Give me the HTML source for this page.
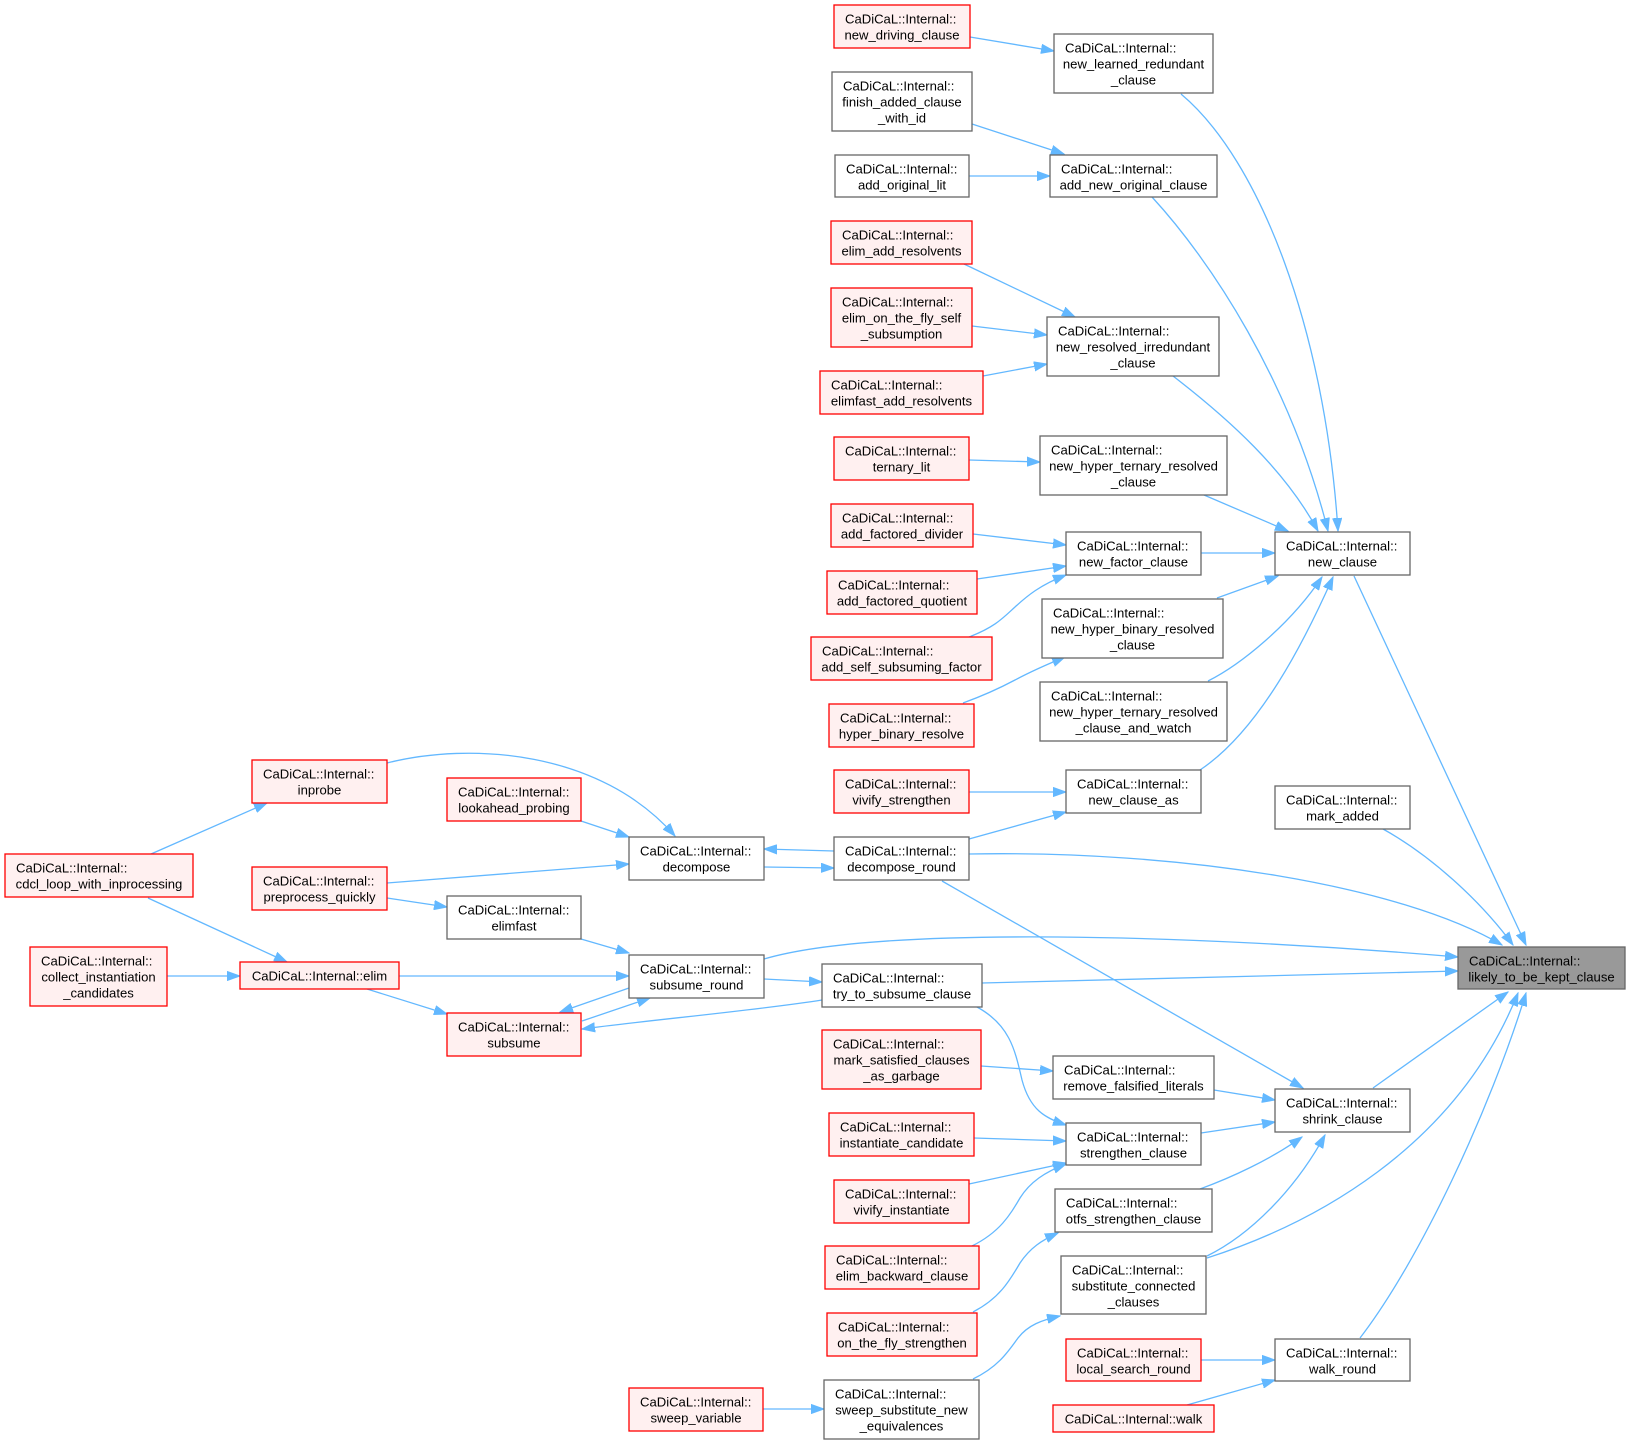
<!DOCTYPE html>
<html><head><meta charset="utf-8"><style>
html,body{margin:0;padding:0;background:#fff;}
svg{display:block;}
text{font-family:"Liberation Sans",Arial,Helvetica,sans-serif;font-size:13.1px;fill:#000;}
.c{text-anchor:middle;}
.n rect{fill:#fff;stroke:#666;stroke-width:1.3;}
.r rect{fill:#fff0f0;stroke:#ff0000;stroke-width:1.3;}
.g rect{fill:#999;stroke:#666;stroke-width:1.3;}
.e path{fill:none;stroke:#63b8ff;stroke-width:1.3;marker-end:url(#a);}
</style></head><body>
<svg width="1630" height="1444" viewBox="0 0 1630 1444" xmlns="http://www.w3.org/2000/svg">
<defs><marker id="a" markerWidth="14" markerHeight="10" refX="13" refY="5" orient="auto" markerUnits="userSpaceOnUse"><path d="M0,0.4 L13,5 L0,9.6z" fill="#63b8ff" stroke="#63b8ff" stroke-width="1"/></marker></defs>
<rect x="0" y="0" width="1630" height="1444" fill="#fff"/>
<g class="e">
<path d="M970,37 L1054,51"/>
<path d="M972,124 L1064,154"/>
<path d="M969,176 L1050,176"/>
<path d="M964,264 L1075,317"/>
<path d="M972,326 L1047,335"/>
<path d="M983,376 L1047,364"/>
<path d="M969,460 L1040,462"/>
<path d="M973,534 L1066,545"/>
<path d="M977,579 L1066,566"/>
<path d="M969,637 C995,627 1003,618 1015,607 C1027,596 1040,585 1066,575"/>
<path d="M963,703 C985,695 1000,688 1015,680 C1030,672 1048,664 1065,657"/>
<path d="M969,792 L1066,792"/>
<path d="M969,839 L1066,812"/>
<path d="M1181,94 C1260,160 1325,330 1338,531"/>
<path d="M1152,197 C1210,260 1290,380 1328,531"/>
<path d="M1173,376 C1230,420 1285,470 1318,531"/>
<path d="M1204,495 L1288,531"/>
<path d="M1201,553 L1275,553"/>
<path d="M1217,598 L1278,576"/>
<path d="M1208,681 C1240,665 1290,625 1322,577"/>
<path d="M1200,770 C1260,730 1305,640 1333,577"/>
<path d="M1354,576 L1526,945"/>
<path d="M1383,829 C1430,855 1480,900 1513,945"/>
<path d="M969,854 C1180,850 1400,885 1502,945"/>
<path d="M764,959 C880,925 1200,935 1458,957"/>
<path d="M982,983 L1458,971"/>
<path d="M1373,1088 L1508,992"/>
<path d="M1207,1258 C1310,1225 1455,1150 1518,993"/>
<path d="M1360,1338 C1420,1260 1490,1110 1526,993"/>
<path d="M387,763 C470,742 600,750 675,836"/>
<path d="M581,821 L629,837"/>
<path d="M387,883 L629,864"/>
<path d="M834,851 L764,849"/>
<path d="M764,867 L834,868"/>
<path d="M387,898 L447,907"/>
<path d="M581,939 L629,953"/>
<path d="M399,976 L629,976"/>
<path d="M367,989 L447,1014"/>
<path d="M582,1021 L650,998"/>
<path d="M629,988 L560,1012"/>
<path d="M764,979 L822,982"/>
<path d="M822,1000 C760,1010 650,1020 582,1029"/>
<path d="M151,854 L267,803"/>
<path d="M148,898 L287,962"/>
<path d="M167,976 L240,976"/>
<path d="M942,881 L1303,1088"/>
<path d="M977,1007 C1010,1025 1015,1050 1022,1080 C1030,1110 1045,1118 1066,1125"/>
<path d="M981,1066 L1053,1071"/>
<path d="M1214,1090 L1275,1100"/>
<path d="M974,1138 L1066,1141"/>
<path d="M969,1184 L1066,1163"/>
<path d="M972,1246 C1000,1232 1010,1215 1020,1198 C1030,1182 1045,1172 1066,1164"/>
<path d="M1201,1133 L1275,1122"/>
<path d="M1200,1189 C1230,1178 1270,1160 1302,1137"/>
<path d="M1207,1256 C1250,1235 1295,1190 1325,1135"/>
<path d="M973,1312 C1000,1298 1010,1280 1020,1263 C1030,1248 1042,1240 1058,1233"/>
<path d="M973,1379 C998,1367 1008,1352 1018,1338 C1028,1325 1042,1320 1060,1316"/>
<path d="M763,1409 L824,1409"/>
<path d="M1201,1360 L1275,1360"/>
<path d="M1187,1405 L1275,1380"/>
</g>

<g class="r"><rect x="834" y="5" width="136" height="43"/><text x="845" y="23.5">CaDiCaL::Internal::</text><text class="c" x="902" y="39.5">new_driving_clause</text></g>
<g class="n"><rect x="1054" y="34" width="159" height="59"/><text x="1065" y="52.5">CaDiCaL::Internal::</text><text class="c" x="1133.5" y="68.5">new_learned_redundant</text><text class="c" x="1133.5" y="84.5">_clause</text></g>
<g class="n"><rect x="832" y="72" width="140" height="59"/><text x="843" y="90.5">CaDiCaL::Internal::</text><text class="c" x="902" y="106.5">finish_added_clause</text><text class="c" x="902" y="122.5">_with_id</text></g>
<g class="n"><rect x="835" y="155" width="134" height="42"/><text x="846" y="173.5">CaDiCaL::Internal::</text><text class="c" x="902" y="189.5">add_original_lit</text></g>
<g class="n"><rect x="1050" y="155" width="167" height="42"/><text x="1061" y="173.5">CaDiCaL::Internal::</text><text class="c" x="1133.5" y="189.5">add_new_original_clause</text></g>
<g class="r"><rect x="831" y="221" width="141" height="43"/><text x="842" y="239.5">CaDiCaL::Internal::</text><text class="c" x="901.5" y="255.5">elim_add_resolvents</text></g>
<g class="r"><rect x="831" y="288" width="141" height="59"/><text x="842" y="306.5">CaDiCaL::Internal::</text><text class="c" x="901.5" y="322.5">elim_on_the_fly_self</text><text class="c" x="901.5" y="338.5">_subsumption</text></g>
<g class="n"><rect x="1047" y="317" width="172" height="59"/><text x="1058" y="335.5">CaDiCaL::Internal::</text><text class="c" x="1133" y="351.5">new_resolved_irredundant</text><text class="c" x="1133" y="367.5">_clause</text></g>
<g class="r"><rect x="820" y="371" width="163" height="43"/><text x="831" y="389.5">CaDiCaL::Internal::</text><text class="c" x="901.5" y="405.5">elimfast_add_resolvents</text></g>
<g class="r"><rect x="834" y="437" width="135" height="43"/><text x="845" y="455.5">CaDiCaL::Internal::</text><text class="c" x="901.5" y="471.5">ternary_lit</text></g>
<g class="n"><rect x="1040" y="436" width="187" height="59"/><text x="1051" y="454.5">CaDiCaL::Internal::</text><text class="c" x="1133.5" y="470.5">new_hyper_ternary_resolved</text><text class="c" x="1133.5" y="486.5">_clause</text></g>
<g class="r"><rect x="831" y="504" width="142" height="43"/><text x="842" y="522.5">CaDiCaL::Internal::</text><text class="c" x="902" y="538.5">add_factored_divider</text></g>
<g class="n"><rect x="1066" y="532" width="135" height="43"/><text x="1077" y="550.5">CaDiCaL::Internal::</text><text class="c" x="1133.5" y="566.5">new_factor_clause</text></g>
<g class="r"><rect x="827" y="571" width="150" height="43"/><text x="838" y="589.5">CaDiCaL::Internal::</text><text class="c" x="902" y="605.5">add_factored_quotient</text></g>
<g class="n"><rect x="1042" y="599" width="181" height="59"/><text x="1053" y="617.5">CaDiCaL::Internal::</text><text class="c" x="1132.5" y="633.5">new_hyper_binary_resolved</text><text class="c" x="1132.5" y="649.5">_clause</text></g>
<g class="r"><rect x="811" y="637" width="181" height="43"/><text x="822" y="655.5">CaDiCaL::Internal::</text><text class="c" x="901.5" y="671.5">add_self_subsuming_factor</text></g>
<g class="n"><rect x="1040" y="682" width="187" height="59"/><text x="1051" y="700.5">CaDiCaL::Internal::</text><text class="c" x="1133.5" y="716.5">new_hyper_ternary_resolved</text><text class="c" x="1133.5" y="732.5">_clause_and_watch</text></g>
<g class="r"><rect x="829" y="704" width="145" height="43"/><text x="840" y="722.5">CaDiCaL::Internal::</text><text class="c" x="901.5" y="738.5">hyper_binary_resolve</text></g>
<g class="r"><rect x="834" y="770" width="135" height="43"/><text x="845" y="788.5">CaDiCaL::Internal::</text><text class="c" x="901.5" y="804.5">vivify_strengthen</text></g>
<g class="n"><rect x="1066" y="770" width="135" height="43"/><text x="1077" y="788.5">CaDiCaL::Internal::</text><text class="c" x="1133.5" y="804.5">new_clause_as</text></g>
<g class="n"><rect x="1275" y="532" width="135" height="43"/><text x="1286" y="550.5">CaDiCaL::Internal::</text><text class="c" x="1342.5" y="566.5">new_clause</text></g>
<g class="n"><rect x="1275" y="786" width="135" height="43"/><text x="1286" y="804.5">CaDiCaL::Internal::</text><text class="c" x="1342.5" y="820.5">mark_added</text></g>
<g class="r"><rect x="252" y="760" width="135" height="43"/><text x="263" y="778.5">CaDiCaL::Internal::</text><text class="c" x="319.5" y="794.5">inprobe</text></g>
<g class="r"><rect x="447" y="778" width="134" height="43"/><text x="458" y="796.5">CaDiCaL::Internal::</text><text class="c" x="514" y="812.5">lookahead_probing</text></g>
<g class="n"><rect x="629" y="837" width="135" height="43"/><text x="640" y="855.5">CaDiCaL::Internal::</text><text class="c" x="696.5" y="871.5">decompose</text></g>
<g class="n"><rect x="834" y="837" width="135" height="43"/><text x="845" y="855.5">CaDiCaL::Internal::</text><text class="c" x="901.5" y="871.5">decompose_round</text></g>
<g class="r"><rect x="5" y="854" width="188" height="43"/><text x="16" y="872.5">CaDiCaL::Internal::</text><text class="c" x="99" y="888.5">cdcl_loop_with_inprocessing</text></g>
<g class="r"><rect x="252" y="867" width="135" height="43"/><text x="263" y="885.5">CaDiCaL::Internal::</text><text class="c" x="319.5" y="901.5">preprocess_quickly</text></g>
<g class="n"><rect x="447" y="896" width="134" height="43"/><text x="458" y="914.5">CaDiCaL::Internal::</text><text class="c" x="514" y="930.5">elimfast</text></g>
<g class="g"><rect x="1458" y="947" width="167" height="42"/><text x="1469" y="965.5">CaDiCaL::Internal::</text><text class="c" x="1541.5" y="981.5">likely_to_be_kept_clause</text></g>
<g class="r"><rect x="30" y="947" width="137" height="59"/><text x="41" y="965.5">CaDiCaL::Internal::</text><text class="c" x="98.5" y="981.5">collect_instantiation</text><text class="c" x="98.5" y="997.5">_candidates</text></g>
<g class="r"><rect x="240" y="962" width="159" height="27"/><text class="c" x="319.5" y="980.3">CaDiCaL::Internal::elim</text></g>
<g class="n"><rect x="629" y="955" width="135" height="43"/><text x="640" y="973.5">CaDiCaL::Internal::</text><text class="c" x="696.5" y="989.5">subsume_round</text></g>
<g class="n"><rect x="822" y="964" width="160" height="43"/><text x="833" y="982.5">CaDiCaL::Internal::</text><text class="c" x="902" y="998.5">try_to_subsume_clause</text></g>
<g class="r"><rect x="447" y="1013" width="134" height="43"/><text x="458" y="1031.5">CaDiCaL::Internal::</text><text class="c" x="514" y="1047.5">subsume</text></g>
<g class="r"><rect x="822" y="1030" width="159" height="59"/><text x="833" y="1048.5">CaDiCaL::Internal::</text><text class="c" x="901.5" y="1064.5">mark_satisfied_clauses</text><text class="c" x="901.5" y="1080.5">_as_garbage</text></g>
<g class="n"><rect x="1053" y="1056" width="161" height="43"/><text x="1064" y="1074.5">CaDiCaL::Internal::</text><text class="c" x="1133.5" y="1090.5">remove_falsified_literals</text></g>
<g class="n"><rect x="1275" y="1089" width="135" height="43"/><text x="1286" y="1107.5">CaDiCaL::Internal::</text><text class="c" x="1342.5" y="1123.5">shrink_clause</text></g>
<g class="r"><rect x="829" y="1113" width="145" height="43"/><text x="840" y="1131.5">CaDiCaL::Internal::</text><text class="c" x="901.5" y="1147.5">instantiate_candidate</text></g>
<g class="n"><rect x="1066" y="1123" width="135" height="42"/><text x="1077" y="1141.5">CaDiCaL::Internal::</text><text class="c" x="1133.5" y="1157.5">strengthen_clause</text></g>
<g class="r"><rect x="834" y="1180" width="135" height="43"/><text x="845" y="1198.5">CaDiCaL::Internal::</text><text class="c" x="901.5" y="1214.5">vivify_instantiate</text></g>
<g class="n"><rect x="1055" y="1189" width="157" height="43"/><text x="1066" y="1207.5">CaDiCaL::Internal::</text><text class="c" x="1133.5" y="1223.5">otfs_strengthen_clause</text></g>
<g class="r"><rect x="825" y="1246" width="154" height="43"/><text x="836" y="1264.5">CaDiCaL::Internal::</text><text class="c" x="902" y="1280.5">elim_backward_clause</text></g>
<g class="n"><rect x="1061" y="1256" width="145" height="58"/><text x="1072" y="1274.5">CaDiCaL::Internal::</text><text class="c" x="1133.5" y="1290.5">substitute_connected</text><text class="c" x="1133.5" y="1306.5">_clauses</text></g>
<g class="r"><rect x="827" y="1313" width="150" height="43"/><text x="838" y="1331.5">CaDiCaL::Internal::</text><text class="c" x="902" y="1347.5">on_the_fly_strengthen</text></g>
<g class="r"><rect x="1066" y="1339" width="135" height="42"/><text x="1077" y="1357.5">CaDiCaL::Internal::</text><text class="c" x="1133.5" y="1373.5">local_search_round</text></g>
<g class="n"><rect x="1275" y="1339" width="135" height="42"/><text x="1286" y="1357.5">CaDiCaL::Internal::</text><text class="c" x="1342.5" y="1373.5">walk_round</text></g>
<g class="r"><rect x="629" y="1388" width="134" height="43"/><text x="640" y="1406.5">CaDiCaL::Internal::</text><text class="c" x="696" y="1422.5">sweep_variable</text></g>
<g class="n"><rect x="824" y="1380" width="155" height="59"/><text x="835" y="1398.5">CaDiCaL::Internal::</text><text class="c" x="901.5" y="1414.5">sweep_substitute_new</text><text class="c" x="901.5" y="1430.5">_equivalences</text></g>
<g class="r"><rect x="1053" y="1405" width="161" height="27"/><text class="c" x="1133.5" y="1423.3">CaDiCaL::Internal::walk</text></g>
</svg>
</body></html>
